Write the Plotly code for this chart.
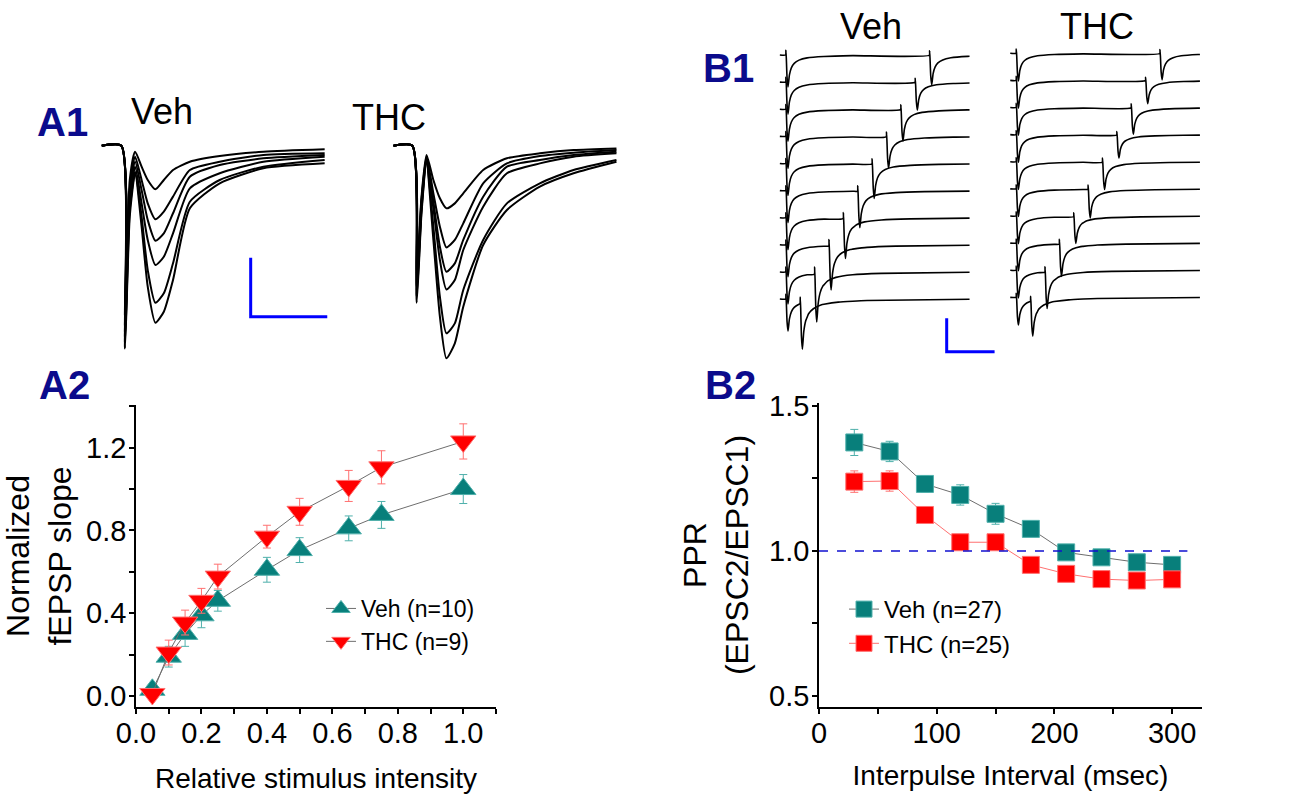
import numpy as np
import plotly.graph_objects as go

W, H = 1300, 797
FONT = "Liberation Sans, Arial, Helvetica, sans-serif"
TEAL = "#087f7b"
TEAL_LT = "#4fb0ab"
RED = "#ff0000"
RED_LT = "#ff7070"
NAVY = "#0b0b8c"

# ---------------- A2: input/output ----------------
STIM = [0.05, 0.1, 0.15, 0.2, 0.25, 0.4, 0.5, 0.65, 0.75, 1.0]
VEH_A2 = [0.03, 0.19, 0.30, 0.39, 0.46, 0.61, 0.705, 0.81, 0.875, 1.0]
VEH_A2_ERR = [0.01, 0.05, 0.06, 0.06, 0.05, 0.06, 0.06, 0.06, 0.065, 0.07]
THC_A2 = [0.01, 0.21, 0.355, 0.46, 0.577, 0.77, 0.89, 1.015, 1.105, 1.23]
THC_A2_ERR = [0.01, 0.06, 0.06, 0.06, 0.06, 0.055, 0.065, 0.075, 0.08, 0.085]

# ---------------- B2: paired-pulse ratio ----------------
IPI = [30, 60, 90, 120, 150, 180, 210, 240, 270, 300]
VEH_PPR = [1.374, 1.343, 1.231, 1.193, 1.128, 1.076, 0.995, 0.978, 0.961, 0.952]
VEH_PPR_ERR = [0.045, 0.035, 0.028, 0.035, 0.036, 0.02, 0.015, 0.015, 0.015, 0.015]
THC_PPR = [1.239, 1.241, 1.124, 1.030, 1.030, 0.952, 0.921, 0.903, 0.898, 0.902]
THC_PPR_ERR = [0.037, 0.035, 0.02, 0.02, 0.02, 0.015, 0.015, 0.015, 0.015, 0.015]

# ---------------- A1: fEPSP traces (ms, mV) ----------------
A1_VEH_T = [-2.6, -0.05, 0.43, 1.05, 1.75, 2.6, 3.4, 4.4, 5.5, 6.7, 8.9, 12.8, 18.5, 26.5]
A1_VEH = [
    [0, 0, -1.449, -0.291, -0.051, -0.178, -0.291, -0.370, -0.291, -0.206, -0.136, -0.088, -0.051, -0.031],
    [0, 0, -1.534, -0.376, -0.093, -0.291, -0.489, -0.624, -0.559, -0.432, -0.206, -0.136, -0.079, -0.065],
    [0, 0, -1.590, -0.432, -0.136, -0.376, -0.630, -0.805, -0.743, -0.573, -0.263, -0.164, -0.107, -0.079],
    [0, 0, -1.633, -0.489, -0.178, -0.489, -0.799, -1.011, -0.941, -0.743, -0.362, -0.234, -0.136, -0.093],
    [0, 0, -1.675, -0.545, -0.220, -0.602, -1.054, -1.331, -1.251, -0.997, -0.475, -0.291, -0.178, -0.121],
    [0, 0, -1.718, -0.602, -0.234, -0.686, -1.195, -1.500, -1.407, -1.138, -0.531, -0.319, -0.192, -0.150],
]
A1_THC_T = [-2.5, -0.05, 0.52, 1.15, 1.8, 2.7, 3.55, 4.4, 5.5, 6.6, 9.2, 12.3, 16.6, 21.0, 26.6]
A1_THC = [
    [0, 0, -1.082, -0.432, -0.079, -0.291, -0.446, -0.531, -0.489, -0.404, -0.206, -0.107, -0.065, -0.037, -0.023],
    [0, 0, -1.138, -0.460, -0.093, -0.404, -0.686, -0.862, -0.799, -0.658, -0.319, -0.150, -0.088, -0.059, -0.037],
    [0, 0, -1.195, -0.489, -0.107, -0.475, -0.856, -1.068, -0.997, -0.799, -0.432, -0.178, -0.121, -0.079, -0.051],
    [0, 0, -1.223, -0.517, -0.121, -0.531, -0.969, -1.218, -1.138, -0.884, -0.517, -0.234, -0.150, -0.093, -0.065],
    [0, 0, -1.280, -0.545, -0.136, -0.686, -1.280, -1.590, -1.506, -1.223, -0.799, -0.489, -0.319, -0.206, -0.121],
    [0, 0, -1.331, -0.573, -0.150, -0.799, -1.449, -1.802, -1.675, -1.364, -0.842, -0.545, -0.347, -0.234, -0.136],
]
A1_SCALE = (10, 0.5)  # ms, mV

# ---------------- B1: EPSC pairs (ms, pA) ----------------
EPSC_TPL_T = [0, 0.6, 1.5, 3.0, 5.0, 8, 12, 18, 28, 45, 80, 140, 400]
EPSC_TPL_V = [0, 0.15, -0.1, -0.7, -1.0, -0.62, -0.40, -0.26, -0.16, -0.09, -0.045, -0.02, 0]
B1_VEH_EPSC1 = 192
B1_VEH_EPSC2 = [276, 288, 264, 240, 219, 207, 190, 190, 166, 178]
B1_THC_EPSC1 = 166
B1_THC_EPSC2 = [211, 219, 193, 160, 171, 164, 138, 158, 138, 158]
B1_SCALE = (100, 200)  # ms, pA
B1_T_START, B1_T_END = -12, 384
B1_STACK = 162.7  # vertical offset between sweeps (pA)


def xd(p0, p1):
    return [p0 / W, p1 / W]


def yd(top, bottom):
    return [1 - bottom / H, 1 - top / H]


fig = go.Figure()

# ---- A2 ----
fig.add_trace(go.Scatter(
    x=STIM, y=VEH_A2, mode="lines+markers", name="Veh (n=10)",
    line=dict(color="#6e6e6e", width=1),
    marker=dict(symbol="triangle-up", size=22, color=TEAL, line=dict(color=TEAL_LT, width=1)),
    error_y=dict(type="data", array=VEH_A2_ERR, color=TEAL_LT, thickness=1, width=4),
    xaxis="x", yaxis="y", legend="legend"))
fig.add_trace(go.Scatter(
    x=STIM, y=THC_A2, mode="lines+markers", name="THC (n=9)",
    line=dict(color="#6e6e6e", width=1),
    marker=dict(symbol="triangle-down", size=22, color=RED, line=dict(color=RED_LT, width=1)),
    error_y=dict(type="data", array=THC_A2_ERR, color=RED_LT, thickness=1, width=4),
    xaxis="x", yaxis="y", legend="legend"))

# ---- B2 ----
fig.add_trace(go.Scatter(
    x=IPI, y=VEH_PPR, mode="lines+markers", name="Veh (n=27)",
    line=dict(color="#6e6e6e", width=1),
    marker=dict(symbol="square", size=17, color=TEAL, line=dict(color=TEAL_LT, width=1)),
    error_y=dict(type="data", array=VEH_PPR_ERR, color=TEAL_LT, thickness=1, width=4),
    xaxis="x2", yaxis="y2", legend="legend2"))
fig.add_trace(go.Scatter(
    x=IPI, y=THC_PPR, mode="lines+markers", name="THC (n=25)",
    line=dict(color=RED_LT, width=1),
    marker=dict(symbol="square", size=17, color=RED, line=dict(color=RED_LT, width=1)),
    error_y=dict(type="data", array=THC_PPR_ERR, color=RED_LT, thickness=1, width=4),
    xaxis="x2", yaxis="y2", legend="legend2"))

# ---- A1 traces ----
for vals in A1_VEH:
    fig.add_trace(go.Scatter(x=A1_VEH_T, y=vals, mode="lines", showlegend=False,
                             line=dict(color="black", width=2, shape="spline", smoothing=0.6),
                             xaxis="x3", yaxis="y3", hoverinfo="skip"))
for vals in A1_THC:
    fig.add_trace(go.Scatter(x=A1_THC_T, y=vals, mode="lines", showlegend=False,
                             line=dict(color="black", width=2, shape="spline", smoothing=0.6),
                             xaxis="x4", yaxis="y4", hoverinfo="skip"))
sx0, sy0 = 16.84, -0.949
fig.add_trace(go.Scatter(x=[sx0, sx0, sx0 + A1_SCALE[0]], y=[sy0, sy0 - A1_SCALE[1], sy0 - A1_SCALE[1]],
                         mode="lines", showlegend=False, line=dict(color="#0000ff", width=3),
                         xaxis="x3", yaxis="y3", hoverinfo="skip"))

# ---- B1 traces ----
tpl_t = np.array(EPSC_TPL_T, dtype=float)
tpl_v = np.array(EPSC_TPL_V, dtype=float)


def epsc_pair(ipi, a1, a2):
    pts = set([B1_T_START, B1_T_END]) | set(EPSC_TPL_T) | set(x + ipi for x in EPSC_TPL_T)
    t = np.array(sorted(p for p in pts if B1_T_START <= p <= B1_T_END), dtype=float)
    v = a1 * np.interp(t, tpl_t, tpl_v, left=0, right=0) + a2 * np.interp(t - ipi, tpl_t, tpl_v, left=0, right=0)
    return t, v


n = len(IPI)
for ax, a1, a2list in (("5", B1_VEH_EPSC1, B1_VEH_EPSC2), ("6", B1_THC_EPSC1, B1_THC_EPSC2)):
    for i, ipi in enumerate(IPI):
        t, v = epsc_pair(ipi, a1, a2list[i])
        off = -(n - 1 - i) * B1_STACK
        fig.add_trace(go.Scatter(x=t, y=v + off, mode="lines", showlegend=False,
                                 line=dict(color="black", width=1.6, shape="spline", smoothing=0.5),
                                 xaxis="x" + ax, yaxis="y" + ax, hoverinfo="skip"))
bx0, by0 = 336.3, -1580
fig.add_trace(go.Scatter(x=[bx0, bx0, bx0 + B1_SCALE[0]], y=[by0, by0 - B1_SCALE[1], by0 - B1_SCALE[1]],
                         mode="lines", showlegend=False, line=dict(color="#0000ff", width=3),
                         xaxis="x5", yaxis="y5", hoverinfo="skip"))

tickfont = dict(family=FONT, size=29, color="black")
common = dict(showline=True, linecolor="black", linewidth=1.5, ticks="outside", ticklen=5,
              tickwidth=1.5, tickcolor="black", showgrid=False, zeroline=False, tickfont=tickfont,
              automargin=False)
minor_common = dict(ticklen=5, tickwidth=1.5, tickcolor="black", ticks="outside", showgrid=False)

hidden = dict(visible=False, showgrid=False, zeroline=False, fixedrange=True, automargin=False)

fig.update_layout(
    width=W, height=H, margin=dict(l=0, r=0, t=0, b=0, autoexpand=False),
    paper_bgcolor="white", plot_bgcolor="rgba(0,0,0,0)",
    xaxis=dict(domain=xd(136, 496), range=[0, 1.1], anchor="y", tick0=0, dtick=0.2, tickformat=".1f",
               ticklabelstandoff=-6,
               minor=dict(tick0=0, dtick=0.1, **minor_common),
               title=dict(text="Relative stimulus intensity", font=dict(family=FONT, size=28, color="black"), standoff=21),
               **common),
    yaxis=dict(domain=yd(405, 707), range=[-0.053, 1.406], anchor="x", tick0=0, dtick=0.4, tickformat=".1f",
               ticklabelstandoff=-3,
               minor=dict(tick0=0, dtick=0.2, **minor_common),
               title=dict(text="Normalized<br>fEPSP slope", font=dict(family=FONT, size=32, color="black"), standoff=6),
               **common),
    xaxis2=dict(domain=xd(819, 1202), range=[0, 325.4], anchor="y2", tick0=0, dtick=100,
                ticklabelstandoff=-6,
                minor=dict(tick0=0, dtick=50, **minor_common),
                title=dict(text="Interpulse Interval (msec)", font=dict(family=FONT, size=28, color="black"), standoff=18),
                **common),
    yaxis2=dict(domain=yd(403, 707), range=[0.462, 1.51], anchor="x2", tick0=0.5, dtick=0.5, tickformat=".1f",
                ticklabelstandoff=-3,
                minor=dict(tick0=0.5, dtick=0.25, **minor_common),
                title=dict(text="PPR<br>(EPSC2/EPSC1)", font=dict(family=FONT, size=32, color="black"), standoff=11),
                **common),
    xaxis3=dict(domain=xd(95, 335), range=[-3.486, 27.85], anchor="y3", **hidden),
    yaxis3=dict(domain=yd(140, 360), range=[-1.816, 0.048], anchor="x3", **hidden),
    xaxis4=dict(domain=xd(385, 625), range=[-3.616, 27.715], anchor="y4", **hidden),
    yaxis4=dict(domain=yd(140, 360), range=[-1.816, 0.048], anchor="x4", **hidden),
    xaxis5=dict(domain=xd(775, 1000), range=[-22.13, 447.6], anchor="y5", **hidden),
    yaxis5=dict(domain=yd(40, 360), range=[-1830, 90], anchor="x5", **hidden),
    xaxis6=dict(domain=xd(1005, 1205), range=[-22.96, 394.6], anchor="y6", **hidden),
    yaxis6=dict(domain=yd(40, 360), range=[-1840.2, 79.8], anchor="x6", **hidden),
    legend=dict(x=321 / W, y=1 - 587 / H, xanchor="left", yanchor="top", bgcolor="rgba(0,0,0,0)",
                font=dict(family=FONT, size=23, color="black"), itemwidth=30, tracegroupgap=0),
    legend2=dict(x=844 / W, y=1 - 587 / H, xanchor="left", yanchor="top", bgcolor="rgba(0,0,0,0)",
                 font=dict(family=FONT, size=24, color="black"), itemwidth=30, tracegroupgap=0),
    shapes=[dict(type="line", xref="x2", yref="y2", x0=0, x1=313, y0=1.0, y1=1.0,
                 line=dict(color="#1010d0", width=1.5, dash="dash"), layer="above")],
)

labels = [
    ("A1", 63, 122, 40, True), ("A2", 64, 385, 40, True), ("B1", 728, 68, 40, True), ("B2", 730, 385, 40, True),
    ("Veh", 162, 111, 36, False), ("THC", 389, 117, 36, False), ("Veh", 871, 27, 36, False), ("THC", 1097, 27, 36, False),
]
for txt, x, y, size, bold in labels:
    fig.add_annotation(x=x / W, y=1 - y / H, xref="paper", yref="paper", showarrow=False,
                       text=f"<b>{txt}</b>" if bold else txt, xanchor="center", yanchor="middle",
                       font=dict(family=FONT, size=size, color=NAVY if bold else "black"))

fig.write_html("out.html", config={"displayModeBar": False},
               post_script="document.body.style.margin='0px';document.body.style.overflow='hidden';")
